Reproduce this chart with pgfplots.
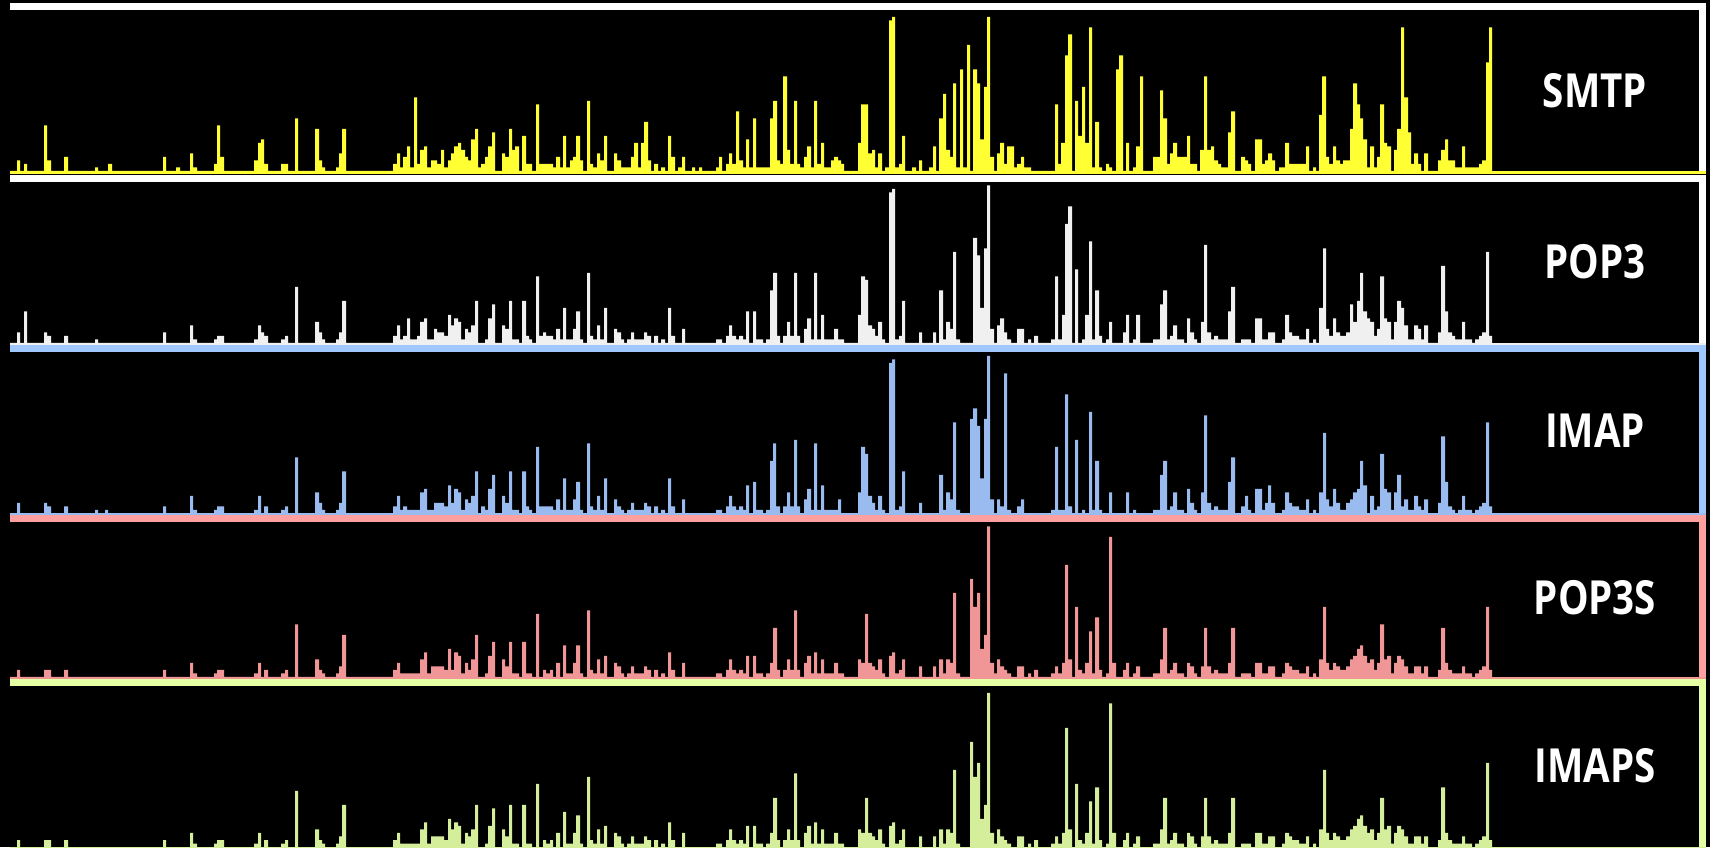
\documentclass[border=0pt]{standalone}
\usepackage{pgfplots}
\pgfplotsset{compat=1.18}
\usepackage{graphicx}
\usepackage{fontspec}
\setmainfont{Open Sans}
\definecolor{cY}{RGB}{255,255,51}
\definecolor{cW}{RGB}{240,240,240}
\definecolor{cB}{RGB}{153,187,240}
\definecolor{cBf}{RGB}{160,200,255}
\definecolor{cP}{RGB}{240,150,150}
\definecolor{cPf}{RGB}{255,160,160}
\definecolor{cG}{RGB}{212,238,156}
\definecolor{cGf}{RGB}{228,255,164}
\pgfplotsset{panel/.style={hide axis, x=0.5pt, y=1.75pt, xmin=0, xmax=1710, ymin=0, ymax=50,
  enlargelimits=false, clip=false, anchor=south west}}
\newcommand{\lab}[3]{\node[text=white, inner sep=0pt, font=\fontsize{23.5}{28}\selectfont\bfseries] at (#1,#2) {\scalebox{0.82}[1]{#3}};}
\begin{document}
\begin{tikzpicture}
\useasboundingbox (0pt,0pt) rectangle (855pt,423.5pt);
\fill[black] (0pt,0pt) rectangle (855pt,423.5pt);
\begin{scope}[x=0.5pt,y=-0.5pt,yshift=423.5pt]
% frames (top and right sides)
\fill[white] (10,3) rectangle (1706,10);  \fill[white] (1699,3) rectangle (1706,171);
\fill[white] (10,175) rectangle (1706,181.7); \fill[white] (1699,175) rectangle (1706,343);
\fill[cBf] (10,345) rectangle (1706,351.7); \fill[cBf] (1699,345) rectangle (1706,513.3);
\fill[cPf] (10,515.3) rectangle (1706,522); \fill[cPf] (1699,515.3) rectangle (1706,677);
\fill[cGf] (10,679) rectangle (1706,685.7); \fill[cGf] (1699,679) rectangle (1706,860);
% baselines
\fill[cY] (10,171) rectangle (1706,173.7);
\fill[cW] (10,343) rectangle (1706,345);
\fill[cB] (10,513.3) rectangle (1706,515.3);
\fill[cP] (10,677) rectangle (1706,679);
\fill[cG] (10,847) rectangle (1706,849);
\lab{1595}{90.5}{SMTP}
\lab{1595}{262}{POP3}
\lab{1595}{431}{IMAP}
\lab{1595}{598}{POP3S}
\lab{1595}{765.5}{IMAPS}
\end{scope}

% SMTP
\begin{axis}[panel, at={(0pt,338pt)}]
\addplot[const plot, fill=cY, draw=none] coordinates {
(10,0) (17,3) (20,0) (24,2) (27,0) (44,13) (47,3) (51,0) (64,4) (68,0) (95,1) (98,0) (108,2) (112,0) (163,4) (166,0) (176,1) (180,0) (190,5) (193,1) (197,0) (214,2) (217,13) (220,4) (224,0) (254,3) (258,8) (261,9) (264,2) (268,0) (281,2) (288,0) (295,15) (298,0) (315,12) (319,3) (322,1) (325,0) (336,1) (339,5) (342,12) (346,0) (393,2) (397,5) (400,1) (403,4) (407,7) (410,1) (414,21) (417,2) (420,6) (424,7) (427,1) (431,3) (437,2) (441,6) (444,1) (448,3) (451,5) (454,7) (458,8) (461,6) (465,4) (468,3) (471,9) (475,12) (478,1) (481,2) (485,4) (488,7) (492,11) (495,0) (502,5) (505,4) (509,12) (512,6) (515,7) (519,0) (522,10) (526,2) (532,0) (536,19) (539,2) (553,1) (556,4) (560,1) (563,10) (566,1) (570,3) (573,4) (576,10) (580,3) (583,0) (587,20) (590,2) (593,1) (597,5) (600,3) (604,10) (607,0) (614,5) (617,3) (621,1) (631,4) (634,8) (638,1) (641,8) (644,14) (648,3) (651,0) (654,2) (658,0) (661,1) (665,0) (668,10) (671,4) (675,0) (678,1) (682,4) (685,0) (692,1) (695,0) (699,1) (702,0) (716,1) (719,4) (722,0) (726,2) (729,5) (732,2) (736,17) (739,3) (743,1) (746,9) (749,1) (753,15) (756,1) (770,15) (773,20) (777,3) (780,2) (783,27) (787,6) (790,2) (794,20) (797,2) (800,1) (804,4) (807,7) (811,1) (814,20) (817,2) (821,8) (824,1) (831,3) (834,4) (838,3) (841,2) (844,0) (858,8) (861,19) (868,5) (872,6) (875,1) (878,5) (882,0) (885,1) (889,43) (892,44) (895,1) (899,2) (902,10) (905,0) (912,1) (916,0) (919,3) (922,0) (929,1) (933,7) (936,0) (939,15) (943,22) (946,6) (950,4) (953,25) (956,1) (960,29) (963,1) (967,36) (970,0) (973,29) (977,25) (980,9) (984,24) (987,44) (990,4) (994,0) (997,5) (1000,8) (1004,2) (1007,7) (1014,1) (1017,2) (1021,4) (1024,1) (1031,0) (1055,19) (1058,2) (1061,8) (1065,33) (1068,39) (1072,0) (1075,20) (1078,10) (1082,24) (1085,8) (1089,41) (1092,1) (1095,14) (1099,1) (1102,0) (1106,2) (1109,1) (1112,0) (1116,29) (1119,33) (1123,0) (1126,8) (1129,0) (1133,1) (1136,7) (1140,27) (1143,0) (1153,4) (1160,23) (1163,15) (1167,2) (1170,5) (1173,8) (1177,4) (1187,10) (1190,2) (1197,0) (1200,6) (1204,27) (1207,6) (1211,7) (1214,3) (1218,2) (1221,1) (1228,11) (1231,17) (1235,0) (1241,4) (1245,3) (1248,2) (1251,0) (1255,9) (1262,2) (1265,3) (1268,5) (1272,3) (1275,0) (1279,1) (1285,8) (1289,2) (1306,7) (1309,0) (1313,1) (1316,0) (1319,16) (1322,27) (1326,4) (1329,2) (1333,7) (1336,3) (1340,2) (1343,3) (1350,12) (1353,25) (1357,19) (1360,15) (1363,9) (1367,1) (1370,7) (1374,1) (1377,4) (1380,19) (1384,8) (1387,7) (1391,0) (1394,6) (1397,12) (1401,41) (1404,21) (1408,11) (1411,2) (1414,5) (1418,2) (1421,0) (1424,5) (1428,0) (1438,3) (1441,6) (1445,9) (1448,3) (1455,1) (1462,7) (1465,1) (1479,2) (1482,3) (1486,31) (1489,41) (1492,0)
} \closedcycle;
\end{axis}

% POP3
\begin{axis}[panel, at={(0pt,252pt)}]
\addplot[const plot, fill=cW, draw=none] coordinates {
(10,0) (17,3) (20,0) (24,9) (27,0) (44,3) (47,2) (51,0) (64,2) (68,0) (95,1) (98,0) (163,3) (166,0) (190,5) (193,1) (197,0) (214,1) (217,2) (224,0) (254,1) (258,5) (261,3) (264,2) (268,0) (281,1) (285,2) (288,0) (295,16) (298,0) (315,6) (319,3) (322,1) (325,0) (336,1) (339,3) (342,12) (346,0) (393,2) (397,5) (400,1) (403,2) (407,7) (410,1) (417,2) (420,6) (424,7) (427,1) (434,4) (437,3) (444,2) (448,8) (451,5) (454,7) (458,6) (461,1) (465,4) (468,3) (471,5) (475,12) (478,0) (485,1) (488,7) (492,11) (495,0)
(502,5) (505,4) (509,12) (512,1) (519,0) (522,12) (526,2) (529,1) (532,0) (536,19) (539,2) (543,3) (546,2) (553,1) (556,4) (560,1) (563,10) (566,1) (573,4) (576,9) (580,1) (583,0) (587,20) (590,2) (593,1) (597,5) (600,1) (604,10) (607,0) (614,4) (617,3) (621,1) (624,0) (627,1) (631,3) (634,1) (644,3) (647,2) (651,0) (654,2) (658,0) (661,1) (665,0) (668,10) (671,2) (675,0) (682,4) (685,0) (716,1) (722,0) (726,2) (729,5) (732,2) (736,1) (739,2) (743,1) (746,9) (749,0) (753,9) (756,1) (763,0) (766,1) (770,15) (773,20) (777,2) (780,0) (783,2) (787,6) (790,2) (794,20) (797,2) (800,0) (804,4) (807,7) (811,1) (814,20) (817,1) (821,8) (824,1) (834,4) (838,1) (844,0) (858,8) (861,19) (865,18) (868,5) (872,4) (875,2) (878,6) (882,1) (885,0) (889,43) (892,44) (895,1) (899,2) (902,12) (905,0) (919,3) (922,0) (933,3) (936,0) (939,15) (943,1) (946,6) (950,4) (953,26) (956,1) (960,0) (973,30) (977,25) (980,10) (984,27) (987,45) (990,4) (994,0) (997,5)
(1000,7) (1004,3) (1007,1) (1011,0) (1017,4) (1024,0) (1028,1) (1031,0) (1034,2) (1038,0) (1051,1) (1055,19) (1058,1) (1062,8) (1065,34) (1068,39) (1072,0) (1075,21) (1078,0) (1082,1) (1085,8) (1089,29) (1092,1) (1095,15) (1099,2) (1102,0) (1106,1) (1109,6) (1112,0) (1123,3) (1126,8) (1129,0) (1133,1) (1136,8) (1140,0) (1153,1) (1160,11) (1163,15) (1167,1) (1170,2) (1173,5) (1177,1) (1184,0) (1187,7) (1190,3) (1194,1) (1197,0) (1201,6) (1204,28) (1207,3) (1211,1) (1214,2) (1218,1) (1228,9) (1231,16) (1235,0) (1241,1) (1251,0) (1255,7) (1262,1) (1268,3) (1275,0) (1282,1) (1285,8) (1289,3) (1292,2) (1299,1) (1306,4) (1309,0) (1313,1) (1316,0) (1319,10) (1323,27) (1326,4) (1329,2) (1333,7) (1336,3) (1340,2) (1346,3) (1350,11) (1353,6) (1357,12) (1360,20) (1363,9) (1367,7) (1370,6) (1374,2) (1377,4) (1380,19) (1384,7) (1387,6) (1391,1) (1394,6) (1397,12) (1401,10) (1404,5) (1408,1) (1414,5) (1418,4) (1421,1) (1424,5) (1428,0) (1438,3) (1441,22) (1445,9) (1448,3) (1452,2) (1455,1) (1462,6) (1465,1) (1472,0) (1475,1) (1479,2) (1482,3) (1486,26) (1489,2) (1492,0)
} \closedcycle;
\end{axis}

% IMAP
\begin{axis}[panel, at={(0pt,166.85pt)}]
\addplot[const plot, fill=cB, draw=none] coordinates {
(10,0) (17,3) (20,0) (44,3) (47,2) (51,0) (64,2) (68,0) (95,1) (98,0) (105,1) (108,0) (163,2) (166,0) (190,5) (193,1) (197,0) (214,1) (217,2) (224,0) (254,1) (258,5) (261,0) (264,2) (268,0) (281,1) (285,2) (288,0) (295,16) (298,0) (315,6) (319,3) (322,1) (325,0) (336,1) (339,3) (342,12) (346,0) (393,2) (397,5) (400,1) (403,2) (407,1) (420,6) (424,7) (427,1) (434,3) (444,2) (448,8) (451,3) (454,7) (458,6) (461,1) (465,4) (468,3) (471,5) (475,12) (478,0) (481,2) (485,1) (488,7) (492,11) (495,0)
(502,5) (505,3) (509,12) (512,1) (519,0) (522,12) (526,2) (529,1) (532,0) (536,19) (539,2) (553,1) (556,4) (560,1) (563,10) (566,1) (573,4) (576,9) (580,1) (583,0) (587,20) (590,2) (593,1) (597,5) (600,1) (604,10) (607,0) (614,4) (617,2) (621,1) (624,0) (627,1) (631,3) (634,1) (644,3) (647,2) (651,0) (654,2) (658,0) (661,1) (665,0) (668,10) (671,2) (675,0) (682,4) (685,0) (716,1) (722,0) (726,2) (729,5) (732,2) (736,1) (739,2) (743,1) (746,8) (749,0) (753,9) (756,1) (763,0) (766,1) (770,15) (773,20) (776,2) (780,0) (783,2) (787,6) (790,2) (794,21) (797,2) (800,0) (804,4) (807,7) (811,1) (814,20) (817,1) (821,8) (824,1) (838,4) (841,0) (858,6) (861,19) (865,17) (868,5) (872,3) (875,1) (878,5) (882,1) (885,0) (889,43) (892,44) (895,1) (899,2) (902,12) (905,0) (919,3) (922,0) (939,11) (943,1) (946,6) (950,4) (953,26) (956,1) (960,0) (970,27) (973,30) (977,25) (980,10) (984,27) (987,45) (990,4) (994,0) (997,4)
(1000,2) (1004,40) (1007,1) (1011,0) (1017,2) (1021,4) (1024,0) (1051,1) (1055,19) (1058,1) (1065,34) (1068,2) (1072,0) (1075,21) (1078,0) (1082,1) (1085,0) (1089,29) (1092,1) (1095,15) (1099,1) (1102,0) (1109,6) (1112,0) (1126,6) (1129,0) (1133,1) (1136,0) (1153,1) (1160,11) (1163,15) (1167,1) (1170,2) (1173,6) (1177,1) (1184,0) (1187,7) (1190,3) (1194,1) (1197,0) (1201,6) (1204,28) (1207,3) (1211,1) (1214,2) (1218,1) (1228,9) (1231,16) (1235,0) (1241,2) (1245,5) (1248,1) (1251,0) (1255,7) (1262,1) (1265,3) (1268,8) (1271,3) (1275,0) (1282,1) (1285,6) (1289,3) (1292,2) (1299,1) (1306,4) (1309,0) (1313,1) (1316,0) (1319,6) (1323,23) (1326,4) (1329,2) (1333,7) (1336,3) (1340,1) (1346,3) (1350,4) (1353,6) (1357,7) (1360,15) (1363,8) (1367,0) (1370,5) (1374,1) (1377,2) (1380,17) (1384,7) (1387,6) (1391,1) (1394,6) (1397,11) (1401,2) (1404,4) (1408,1) (1414,5) (1418,2) (1421,1) (1424,4) (1428,0) (1438,3) (1441,22) (1445,9) (1448,2) (1452,1) (1455,0) (1458,1) (1462,5) (1465,1) (1472,0) (1475,1) (1479,2) (1482,3) (1486,26) (1489,2) (1492,0)
} \closedcycle;
\end{axis}

% POP3S
\begin{axis}[panel, at={(0pt,85pt)}]
\addplot[const plot, fill=cP, draw=none] coordinates {
(10,0) (17,2) (20,0) (44,2) (51,0) (64,2) (68,0) (163,2) (166,0) (190,4) (193,1) (197,0) (214,1) (217,2) (224,0) (254,1) (258,4) (261,0) (264,2) (268,0) (281,1) (285,2) (288,0) (295,15) (298,0) (315,5) (319,2) (322,1) (325,0) (336,1) (339,3) (342,12) (346,0) (393,2) (397,4) (400,1) (417,1) (420,5) (424,7) (427,1) (431,3) (444,2) (448,8) (451,2) (454,7) (458,6) (461,1) (465,4) (468,2) (471,5) (475,12) (478,0) (485,1) (488,6) (492,10) (495,0) (502,5) (505,3) (509,10) (512,1) (519,0) (522,10) (526,1) (532,0) (536,18) (539,0) (543,2) (546,1) (550,2) (553,0) (556,4) (560,0) (563,9) (566,1) (573,4) (576,9) (580,1) (583,0) (587,19) (590,2) (593,1) (597,5)
(600,1) (604,6) (607,0) (614,4) (617,3) (621,1) (624,0) (627,1) (631,3) (634,1) (644,3) (647,2) (651,0) (654,2) (658,0) (661,1) (665,0) (668,7) (671,2) (675,0) (682,4) (685,0) (716,1) (722,0) (726,2) (729,5) (732,2) (736,1) (739,2) (743,1) (746,6) (749,0) (753,6) (756,1) (763,0) (766,1) (770,4) (773,14) (777,2) (780,0) (783,2) (787,5) (790,2) (794,19) (797,2) (800,0) (804,4) (807,6) (811,1) (814,7) (817,1) (821,5) (824,1) (834,4) (838,1) (844,0) (858,5) (861,4) (865,18) (868,4) (872,3) (875,2) (878,5) (882,1) (885,0) (889,6) (892,7) (895,1) (899,2) (902,5) (905,0) (919,3) (922,0) (933,3) (936,0) (939,5) (943,1) (946,5) (950,4) (953,24) (956,1) (960,0) (970,28) (973,20) (977,24) (980,8) (984,12) (987,43) (990,4) (994,1) (997,5)
(1000,3) (1004,2) (1007,1) (1011,0) (1017,3) (1024,0) (1028,1) (1031,0) (1034,2) (1038,0) (1051,1) (1055,3) (1058,1) (1062,4) (1065,32) (1068,5) (1072,0) (1075,20) (1078,2) (1082,1) (1085,4) (1089,13) (1092,1) (1095,17) (1099,2) (1102,0) (1106,1) (1109,40) (1112,4) (1116,0) (1123,2) (1126,4) (1129,0) (1133,1) (1136,3) (1140,0) (1153,1) (1160,5) (1163,14) (1167,1) (1170,2) (1173,4) (1177,1) (1184,0) (1187,4) (1190,3) (1194,1) (1197,0) (1201,3) (1204,14) (1207,3) (1211,1) (1214,2) (1218,1) (1228,4) (1231,14) (1235,0) (1241,1) (1251,0) (1255,4) (1262,1) (1268,3) (1275,0) (1282,1) (1285,4) (1289,3) (1292,2) (1299,1) (1306,3) (1309,0) (1313,1) (1316,0) (1319,5) (1323,20) (1326,4) (1329,2) (1333,4) (1336,3) (1340,2) (1346,3) (1350,5) (1353,6) (1357,8) (1360,9) (1363,6) (1367,4) (1370,5) (1374,2) (1377,4) (1380,15) (1384,5) (1387,6) (1391,1) (1394,4) (1397,6) (1401,5) (1404,3) (1408,1) (1414,3) (1418,3) (1421,1) (1424,3) (1428,0) (1438,2) (1441,14) (1445,4) (1448,2) (1452,1) (1455,1) (1462,3) (1465,1) (1472,0) (1475,1) (1479,2) (1482,3) (1486,20) (1489,2) (1492,0)
} \closedcycle;
\end{axis}

% IMAPS
\begin{axis}[panel, at={(0pt,0pt)}]
\addplot[const plot, fill=cG, draw=none] coordinates {
(10,0) (17,2) (20,0) (44,2) (51,0) (64,2) (68,0) (163,2) (166,0) (190,4) (193,1) (197,0) (214,1) (217,2) (224,0) (254,1) (258,4) (261,0) (264,2) (268,0) (281,1) (285,2) (288,0) (295,16) (298,0) (315,5) (319,2) (322,1) (325,0) (336,1) (339,3) (342,12) (346,0) (393,2) (397,4) (400,1) (417,1) (420,5) (424,7) (427,1) (431,3) (444,2) (448,8) (451,5) (454,7) (458,6) (461,1) (465,4) (468,3) (471,5) (475,12) (478,0) (485,1) (488,6) (492,11) (495,0) (502,5) (505,3) (509,12) (512,1) (519,0) (522,12) (526,1) (532,0) (536,18) (539,0) (543,2) (546,1) (550,2) (553,0) (556,4) (560,0) (563,10) (566,1) (573,4) (576,9) (580,1) (583,0) (587,20) (590,2) (593,1) (597,5)
(600,1) (604,6) (607,0) (614,4) (617,3) (621,1) (624,0) (627,1) (631,3) (634,1) (644,3) (647,2) (651,0) (654,2) (658,0) (661,1) (665,0) (668,7) (671,2) (675,0) (682,4) (685,0) (716,1) (722,0) (726,2) (729,5) (732,2) (736,1) (739,2) (743,1) (746,6) (749,0) (753,6) (756,1) (763,0) (766,1) (770,4) (773,14) (777,2) (780,0) (783,2) (787,5) (790,2) (794,21) (797,2) (800,0) (804,4) (807,6) (811,1) (814,7) (817,1) (821,5) (824,1) (834,4) (838,1) (844,0) (858,5) (861,4) (865,14) (868,4) (872,3) (875,2) (878,5) (882,1) (885,0) (889,6) (892,7) (895,1) (899,2) (902,5) (905,0) (919,3) (922,0) (933,3) (936,0) (939,5) (943,1) (946,5) (950,4) (953,22) (956,1) (960,0) (970,30) (973,20) (977,24) (980,8) (984,12) (987,44) (990,4) (994,1) (997,5)
(1000,3) (1004,2) (1007,1) (1011,0) (1017,3) (1024,0) (1028,1) (1031,0) (1034,2) (1038,0) (1051,1) (1055,3) (1058,1) (1062,4) (1065,34) (1068,5) (1072,0) (1075,18) (1078,2) (1082,1) (1085,4) (1089,13) (1092,1) (1095,17) (1099,2) (1102,0) (1106,1) (1109,41) (1112,4) (1116,0) (1123,2) (1126,4) (1129,0) (1133,1) (1136,3) (1140,0) (1153,1) (1160,5) (1163,14) (1167,1) (1170,2) (1173,4) (1177,1) (1184,0) (1187,4) (1190,3) (1194,1) (1197,0) (1201,3) (1204,14) (1207,3) (1211,1) (1214,2) (1218,1) (1228,4) (1231,14) (1235,0) (1241,1) (1251,0) (1255,4) (1262,1) (1268,3) (1275,0) (1282,1) (1285,4) (1289,3) (1292,2) (1299,1) (1306,3) (1309,0) (1313,1) (1316,0) (1319,5) (1323,22) (1326,4) (1329,2) (1333,4) (1336,3) (1340,2) (1346,3) (1350,5) (1353,6) (1357,8) (1360,9) (1363,6) (1367,4) (1370,5) (1374,2) (1377,4) (1380,14) (1384,5) (1387,6) (1391,1) (1394,4) (1397,6) (1401,5) (1404,3) (1408,1) (1414,3) (1418,3) (1421,1) (1424,3) (1428,0) (1438,2) (1441,17) (1445,4) (1448,2) (1452,1) (1455,1) (1462,3) (1465,1) (1472,0) (1475,1) (1479,2) (1482,3) (1486,24) (1489,2) (1492,0)
} \closedcycle;
\end{axis}
\end{tikzpicture}
\end{document}
